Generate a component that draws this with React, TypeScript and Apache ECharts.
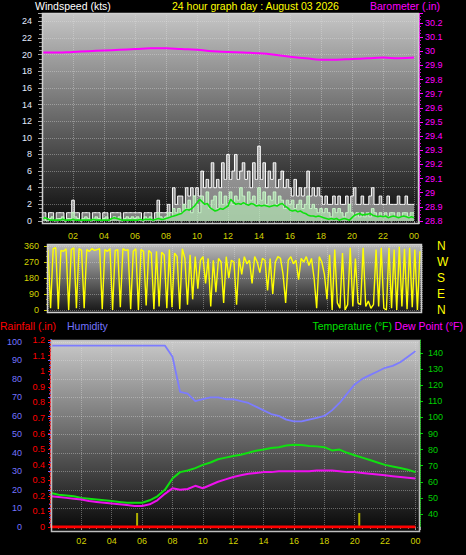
import React, { useEffect, useRef } from "react";
import * as echarts from "echarts";

// ---------- DATA ----------
// wind, 10-minute samples from 00:00 to 24:00 (145 values), knots
const gust = [
  1, 1, 0, 1, 1, 0,
  1, 1, 1, 0, 1, 1,
  2.5, 1, 1, 0, 1, 1,
  1, 0, 1, 1, 1, 0,
  1, 1, 0, 1, 1, 1,
  1, 0, 1, 1, 1, 1,
  1, 1, 1, 0, 1, 1,
  1, 0, 1, 2.5, 1, 1,
  1, 2, 1, 4, 2, 3,
  3, 2, 4, 3, 4, 3,
  4, 3, 6, 4, 5, 4,
  7, 4, 5, 4, 7, 5,
  8, 5, 6, 8, 5, 6,
  7, 5, 6, 4, 7, 5,
  9, 5, 7, 4, 6, 5,
  7, 4, 5, 6, 4, 5,
  4, 3, 5, 3, 4, 3,
  4, 6, 3, 4, 3, 4,
  3, 2, 3, 2, 2, 3,
  2, 3, 2, 2, 3, 2,
  3, 4, 2, 2, 3, 2,
  2, 3, 4, 2, 2, 3,
  2, 2, 3, 2, 2, 2,
  3, 2, 2, 3, 2, 2,
  2,
];
const speed = [
  0.5, 0.3, 0, 0.3, 0.5, 0,
  0.3, 0.3, 0.5, 0, 0.3, 0.3,
  1, 0.5, 0.3, 0, 0.3, 0.5,
  0.3, 0, 0.3, 0.5, 0.3, 0,
  0.3, 0.5, 0, 0.3, 0.5, 0.3,
  0.5, 0, 0.3, 0.5, 0.3, 0.5,
  0.3, 0.5, 0.3, 0, 0.5, 0.3,
  0.5, 0, 0.3, 1, 0.5, 0.3,
  0.5, 1, 0.5, 1.5, 1, 1.5,
  1, 2, 1.5, 2.5, 1, 3,
  2, 1, 3, 2, 3.5, 1.5,
  2.5, 3, 1.5, 3.5, 2, 3,
  2, 3.5, 2, 3, 2.5, 4,
  3, 2, 3.5, 2.5, 3, 2,
  4, 2.5, 3.5, 2, 3, 2.5,
  3.5, 2, 3, 2.5, 1.5, 2.5,
  2, 2.5, 1.5, 2, 2.5, 1.5,
  2, 3, 1.5, 2, 1.5, 1,
  1.5, 1, 1.5, 1, 0.5, 1.5,
  1, 1.5, 1, 0.5, 1, 2,
  1, 0.5, 1, 0.5, 1, 0.5,
  1, 0.5, 1.5, 1, 0.5, 1,
  0.5, 1, 0.5, 1, 1, 0.5,
  1, 0.5, 1, 1, 0.5, 1,
  1,
];
const avgSpeed = [
  0.2, 0.4, 0.3, 0.1, 0.1, 0.1,
  0.1, 0.1, 0.2, 0.1, 0.1, 0.1,
  0.2, 0.1, 0.1, 0.1, 0.1, 0.1,
  0.1, 0.1, 0.2, 0.1, 0.1, 0.1,
  0.1, 0.1, 0.1, 0.3, 0.4, 0.3,
  0.2, 0.1, 0.1, 0.1, 0.1, 0.1,
  0.1, 0.1, 0.2, 0.1, 0.2, 0.2,
  0.2, 0.1, 0.2, 0.3, 0.2, 0.2,
  0.3, 0.4, 0.5, 0.6, 0.7, 0.8,
  0.9, 1.2, 1.4, 1.3, 1.5, 1.8,
  2.2, 2.6, 2.3, 2.0, 2.1, 1.6,
  1.4, 1.2, 1.3, 1.5, 1.4, 1.6,
  1.8, 2.6, 2.3, 2.0, 2.1, 2.0,
  2.2, 2.0, 1.9, 2.1, 2.0, 1.8,
  1.9, 1.8, 1.9, 1.8, 1.7, 1.8,
  1.9, 1.8, 2.0, 2.1, 1.8, 1.6,
  1.3, 1.2, 1.3, 1.1, 1.2, 1.0,
  0.9, 0.7, 0.6, 0.6, 0.5, 0.6,
  0.5, 0.4, 0.3, 0.2, 0.3, 0.2,
  0.3, 0.1, 0.2, 0.3, 0.2, 0.1,
  0.4, 0.7, 0.8, 0.9, 0.7, 0.8,
  0.8, 0.9, 0.7, 0.6, 0.5, 0.6,
  0.5, 0.6, 0.4, 0.5, 0.6, 0.5,
  0.4, 0.5, 0.6, 0.5, 0.4, 0.5,
  0.4,
];
// barometer, hourly 00..24, inHg
const barometer = [
  29.99, 29.99, 29.995, 30.0, 30.005, 30.01, 30.015, 30.02, 30.02, 30.015,
  30.01, 30.0, 29.995, 29.99, 29.985, 29.975, 29.96, 29.95, 29.94, 29.94,
  29.945, 29.95, 29.955, 29.95, 29.955,
];
// wind direction, 10-minute samples, degrees
const direction = [
  340, 10, 345, 350, 5, 335,
  330, 345, 0, 340, 350, 10,
  345, 335, 10, 340, 330, 345,
  335, 340, 345, 5, 340, 330,
  345, 0, 335, 340, 15, 345,
  335, 340, 5, 330, 345, 0,
  340, 330, 25, 335, 320, 5,
  330, 20, 325, 310, 10, 340,
  15, 320, 300, 5, 345, 290,
  30, 310, 60, 300, 120, 280,
  300, 150, 290, 20, 280, 100,
  290, 270, 40, 300, 180, 280,
  270, 30, 290, 200, 300, 260,
  280, 150, 300, 270, 210, 290,
  280, 110, 290, 90, 270, 300,
  290, 200, 40, 280, 300, 260,
  280, 170, 290, 270, 300, 250,
  290, 180, 10, 300, 270, 200,
  60, 310, 0, 340, 40, 10,
  320, 0, 30, 350, 20, 290,
  40, 30, 350, 20, 50, 10,
  30, 340, 20, 350, 10, 0,
  350, 10, 340, 0, 355, 20,
  345, 5, 350, 15, 340, 0,
  330,
];
// half-hourly 00:00..24:00 (49 values)
const humidity = [
  98, 98, 98, 98, 98, 98, 98, 98, 98, 98, 98, 98, 98, 98, 98, 98,
  92, 73, 72, 68, 69, 70, 70, 69, 69, 68, 67, 65, 63, 61, 60, 58,
  57, 57, 58, 59, 60, 63, 67, 72, 77, 80, 82, 84, 86, 87, 89, 92,
  95,
];
const temperature = [
  53, 52, 51.5, 51, 50, 49.5, 49, 48.5, 48, 47.5, 47, 47, 47, 48.5, 51, 55,
  62, 66, 67, 68.5, 70.5, 72, 74, 75, 76, 76.8, 78, 79.3, 80, 81, 81.5, 82.5,
  83, 82.8, 82.2, 82, 81.5, 79.5, 80, 78, 76.5, 75, 73.5, 72, 70.5, 69.5, 68.5, 67.5,
  66,
];
const dewPoint = [
  51, 50.5, 50, 49.5, 49, 48, 47.5, 47, 46.5, 46, 45.5, 45, 45, 46, 48.5, 52.5,
  56, 55, 55.5, 57.5, 56, 58, 60, 61.5, 63, 64, 65, 65.5, 66, 66, 66.5, 66.5,
  66.5, 66.5, 66.5, 67, 67, 67, 66.5, 66, 66, 65.5, 65, 64.5, 64, 63.5, 63, 62.5,
  62,
];
// rainfall total, hourly (in)
const rainfall = [0, 0, 0, 0, 0, 0, 0, 0, 0, 0, 0, 0, 0, 0, 0, 0, 0, 0, 0, 0, 0, 0, 0, 0, 0];
const rainMarkHours = [5.67, 20.3];
const rainMarkValues = [0.09, 0.09];

const compassLabels = ["N", "E", "S", "W", "N"]; // 0, 90, 180, 270, 360
const tempLabelValues = [40, 50, 60, 70, 80, 90, 100, 110, 120, 130, 140];

const TITLE_LEFT = "Windspeed (kts)";
const TITLE_MID = "24 hour graph day : August 03 2026";
const TITLE_RIGHT = "Barometer (.in)";
const LEG_RAIN = "Rainfall (.in)";
const LEG_HUM = "Humidity";
const LEG_TEMP = "Temperature (°F)";
const LEG_DEW = "Dew Point (°F)";

// ---------- helpers ----------
const pairs = (arr: number[], step: number) => arr.map((v, i) => [i * step, v]);
const FONT = '"Liberation Sans", Arial, sans-serif';

const hourFmt = (v: number) => {
  if (Math.abs(v - Math.round(v)) > 1e-6 || v === 0) return "";
  return String(Math.round(v) % 24).padStart(2, "0");
};
const decFmt = (v: number) => {
  const t = Math.round(v * 10);
  if (Math.abs(v * 10 - t) > 1e-4) return "";
  return String(t / 10);
};
const evenIntFmt = (step: number) => (v: number) => {
  const r = Math.round(v);
  if (Math.abs(v - r) > 1e-6 || r % step !== 0) return "";
  return String(r);
};

const gridLine = { show: true, lineStyle: { type: "dotted" as const, color: "rgba(225,225,225,0.38)", width: 1 } };
const grad = (top: string, bottom: string) => ({
  type: "linear",
  x: 0, y: 0, x2: 0, y2: 1,
  colorStops: [
    { offset: 0, color: top },
    { offset: 1, color: bottom },
  ],
});
const label = (text: string, x: number, y: number, fill: string, align: string = "left") => ({
  type: "text", x, y, z: 30,
  style: { text, fill, fontSize: 10.5, fontFamily: FONT, verticalAlign: "middle", align },
});

export default function App() {
  const ref = useRef<HTMLDivElement>(null);

  useEffect(() => {
    if (!ref.current) return;
    const chart = echarts.init(ref.current, null, { renderer: "svg" });

    const option: any = {
      animation: false,
      backgroundColor: "#000000",
      textStyle: { fontFamily: FONT },
      grid: [
        { left: 42, top: 13, width: 377, height: 208 },
        { left: 48, top: 246, width: 374, height: 64 },
        { left: 51, top: 340, width: 369, height: 187 },
      ],
      xAxis: [
        {
          type: "value", gridIndex: 0, min: 0, max: 24.32, interval: 2, offset: 3,
          axisLine: { show: false },
          axisTick: { show: true, length: 3, lineStyle: { color: "#9a9a9a" } },
          minorTick: { show: true, splitNumber: 4, length: 2, lineStyle: { color: "#7a7a7a" } },
          axisLabel: { color: "#d2d200", fontSize: 9, margin: 7, formatter: hourFmt },
          splitLine: gridLine,
        },
        {
          type: "value", gridIndex: 1, min: 0, max: 24.13, interval: 2,
          axisLine: { show: false }, axisTick: { show: false }, axisLabel: { show: false },
          splitLine: gridLine,
        },
        {
          type: "value", gridIndex: 2, min: 0, max: 24.3, interval: 2, offset: 5,
          axisLine: { show: false },
          axisTick: { show: true, length: 3, lineStyle: { color: "#9a9a9a" } },
          minorTick: { show: true, splitNumber: 4, length: 2, lineStyle: { color: "#7a7a7a" } },
          axisLabel: { color: "#d2d200", fontSize: 9, margin: 4, formatter: hourFmt },
          splitLine: gridLine,
        },
      ],
      yAxis: [
        {
          type: "value", gridIndex: 0, position: "left", min: 0, max: 25, interval: 2,
          axisLine: { show: false },
          axisTick: { show: true, length: 4, lineStyle: { color: "#a8a8a8" } },
          minorTick: { show: true, splitNumber: 4, length: 3, lineStyle: { color: "#8a8a8a" } },
          axisLabel: { color: "#e2eaff", fontSize: 9, margin: 10, formatter: evenIntFmt(2) },
          splitLine: gridLine,
        },
        {
          type: "value", gridIndex: 0, position: "right", min: 28.8, max: 30.27, interval: 0.1,
          axisLine: { show: true, lineStyle: { color: "#ff00ff", type: "dotted", width: 1 } },
          axisTick: { show: true, length: 4, lineStyle: { color: "#ff00ff" } },
          minorTick: { show: true, splitNumber: 4, length: 2, lineStyle: { color: "#d000d0" } },
          axisLabel: { color: "#ff00ff", fontSize: 9, margin: 6, formatter: decFmt },
          splitLine: { show: false },
        },
        {
          type: "value", gridIndex: 1, position: "left", min: 0, max: 360, interval: 90,
          axisLine: { show: false },
          axisTick: { show: true, length: 4, lineStyle: { color: "#c8c800" } },
          minorTick: { show: true, splitNumber: 3, length: 2, lineStyle: { color: "#a0a000" } },
          axisLabel: { color: "#d2d200", fontSize: 9, margin: 9 },
          splitLine: gridLine,
        },
        {
          type: "value", gridIndex: 1, position: "right", min: 0, max: 360, interval: 90,
          axisLine: { show: false }, axisTick: { show: false },
          axisLabel: {
            color: "#ffff00", fontSize: 12, margin: 15,
            formatter: (v: number) => compassLabels[Math.round(v / 90)] ?? "",
          },
          splitLine: { show: false },
        },
        {
          type: "value", gridIndex: 2, position: "left", offset: 21, min: 0, max: 101, interval: 10,
          axisLine: { show: true, lineStyle: { color: "#5c5cff", width: 2 } },
          axisTick: { show: true, length: 3, lineStyle: { color: "#6a6aff" } },
          minorTick: { show: true, splitNumber: 4, length: 2, lineStyle: { color: "#5050d0" } },
          axisLabel: { color: "#7474ff", fontSize: 9, margin: 8, formatter: evenIntFmt(10) },
          splitLine: gridLine,
        },
        {
          type: "value", gridIndex: 2, position: "left", offset: 0, min: 0, max: 1.2, interval: 0.1,
          axisLine: { show: true, lineStyle: { color: "#ff3030", type: "dotted", width: 2 } },
          axisTick: { show: true, length: 3, lineStyle: { color: "#ff0000" } },
          minorTick: { show: true, splitNumber: 4, length: 2, lineStyle: { color: "#c00000" } },
          axisLabel: { color: "#ff0000", fontSize: 9, margin: 6, formatter: decFmt },
          splitLine: { show: false },
        },
        {
          type: "value", gridIndex: 2, position: "right", min: 31.9, max: 148.1,
          axisLine: { show: true, lineStyle: { color: "#00c000", type: "dotted", width: 1 } },
          axisTick: { show: true, length: 3, lineStyle: { color: "#00d000" }, customValues: tempLabelValues },
          axisLabel: { color: "#00d000", fontSize: 9, margin: 8, customValues: tempLabelValues },
          splitLine: { show: false },
        },
      ],
      series: [
        {
          name: "Gust", type: "line", xAxisIndex: 0, yAxisIndex: 0, step: "middle",
          data: pairs(gust, 1 / 6), symbol: "none",
          lineStyle: { color: "#ffffff", width: 1 },
          areaStyle: { color: "rgba(240,240,240,0.72)" },
          z: 2,
        },
        {
          name: "Speed", type: "line", xAxisIndex: 0, yAxisIndex: 0, step: "middle",
          data: pairs(speed, 1 / 6), symbol: "none",
          lineStyle: { color: "#c8f8c8", width: 1 },
          areaStyle: { color: "rgba(190,245,190,0.88)" },
          z: 3,
        },
        {
          name: "Average", type: "line", xAxisIndex: 0, yAxisIndex: 0,
          data: pairs(avgSpeed, 1 / 6), symbol: "none",
          lineStyle: { color: "#10e010", width: 1.6 },
          z: 4,
        },
        {
          name: "Barometer", type: "line", xAxisIndex: 0, yAxisIndex: 1,
          data: pairs(barometer, 1), symbol: "none", smooth: true,
          lineStyle: { color: "#ff00ff", width: 2 },
          z: 5,
        },
        {
          name: "Direction", type: "line", xAxisIndex: 1, yAxisIndex: 2,
          data: pairs(direction, 1 / 6), symbol: "none",
          lineStyle: { color: "#ffff00", width: 1.4 },
          z: 3,
        },
        {
          name: "Humidity", type: "line", xAxisIndex: 2, yAxisIndex: 4,
          data: pairs(humidity, 0.5), symbol: "none",
          lineStyle: { color: "#7c7cff", width: 1.8 },
          z: 3,
        },
        {
          name: "Temperature", type: "line", xAxisIndex: 2, yAxisIndex: 6,
          data: pairs(temperature, 0.5), symbol: "none",
          lineStyle: { color: "#10e010", width: 2 },
          z: 4,
        },
        {
          name: "Dew Point", type: "line", xAxisIndex: 2, yAxisIndex: 6,
          data: pairs(dewPoint, 0.5), symbol: "none",
          lineStyle: { color: "#ee10ee", width: 2 },
          z: 4,
        },
        {
          name: "Rainfall", type: "line", xAxisIndex: 2, yAxisIndex: 5,
          data: pairs(rainfall, 1), symbol: "none",
          lineStyle: { color: "#ff0000", width: 3 },
          z: 5,
        },
        {
          name: "Rain rate", type: "bar", xAxisIndex: 2, yAxisIndex: 5,
          data: rainMarkHours.map((h, i) => [h, rainMarkValues[i]]),
          barWidth: 2,
          itemStyle: { color: "#b0b000" },
          z: 4,
        },
      ],
      graphic: [
        { type: "rect", z: -10, silent: true, shape: { x: 42, y: 13, width: 377, height: 211 }, style: { fill: grad("#c6c6c6", "#0a0a0a") } },
        { type: "rect", z: -10, silent: true, shape: { x: 47, y: 244, width: 375, height: 69 }, style: { fill: grad("#bcbcbc", "#141414") } },
        { type: "rect", z: -10, silent: true, shape: { x: 51, y: 340, width: 369, height: 192 }, style: { fill: grad("#cacaca", "#060606") } },
        { type: "rect", z: 20, silent: true, shape: { x: 42.5, y: 13.5, width: 376, height: 210 }, style: { fill: "none", stroke: "#cfcfcf", lineWidth: 1.5 } },
        { type: "rect", z: 20, silent: true, shape: { x: 47.5, y: 244.5, width: 374, height: 68 }, style: { fill: "none", stroke: "#cfcfcf", lineWidth: 1.5 } },
        { type: "rect", z: 20, silent: true, shape: { x: 51.5, y: 340.5, width: 368, height: 191 }, style: { fill: "none", stroke: "#bdbdbd", lineWidth: 1.5 } },
        label(TITLE_LEFT, 35, 6, "#ffffff"),
        label(TITLE_MID, 172, 6, "#ffff00"),
        label(TITLE_RIGHT, 440, 6, "#ff00ff", "right"),
        label(LEG_RAIN, 0, 326, "#ff0000"),
        label(LEG_HUM, 67, 326, "#7474ff"),
        label(LEG_TEMP, 392, 326, "#00e000", "right"),
        label(LEG_DEW, 463, 326, "#ff00ff", "right"),
      ],
    };

    chart.setOption(option);
    return () => chart.dispose();
  }, []);

  return (
    <div
      ref={ref}
      style={{ position: "absolute", left: 0, top: 0, width: 466, height: 555, background: "#000" }}
    />
  );
}
